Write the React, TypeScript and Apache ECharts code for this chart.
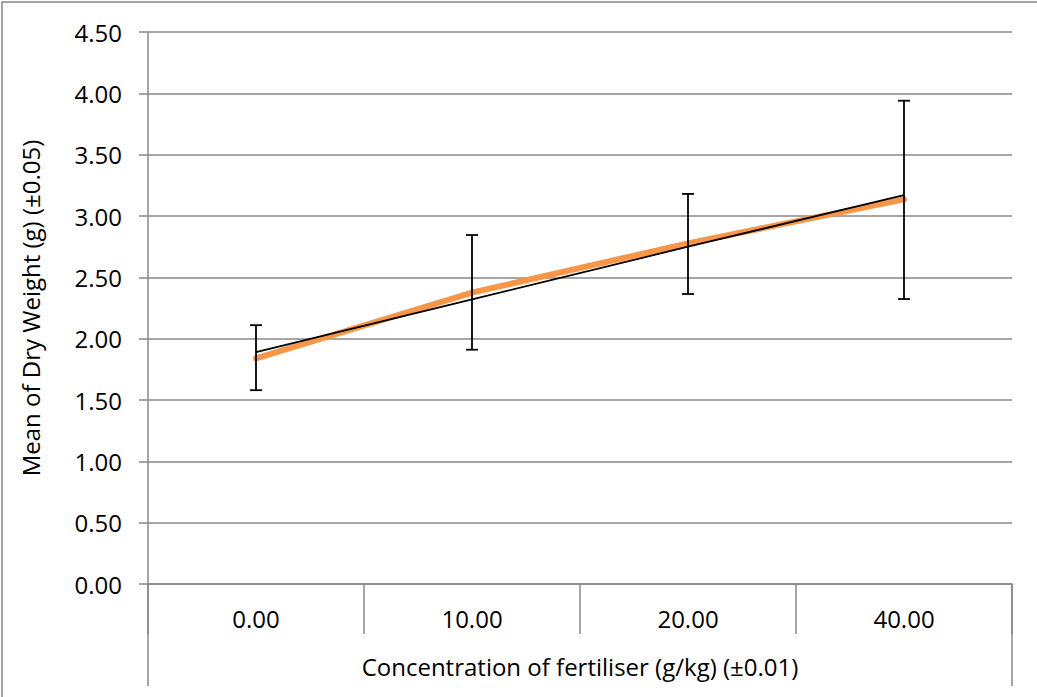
import React, { useEffect, useRef } from "react";
import * as echarts from "echarts";

const categories = ["0.00", "10.00", "20.00", "40.00"];
const meanDryWeight = [1.84, 2.375, 2.777, 3.136];
const trendline = [1.89, 2.32, 2.75, 3.17];
const errorLow = [1.58, 1.91, 2.364, 2.323];
const errorHigh = [2.11, 2.845, 3.18, 3.94];
const yTicks = { min: 0, max: 4.5, interval: 0.5 };

const xTitle = "Concentration of fertiliser (g/kg) (±0.01)";
const yTitle = "Mean of Dry Weight (g) (±0.05)";

const FONT = "Open Sans";
const FS = 24;
const GRID = { left: 148, right: 25, top: 32, bottom: 113 };
const W = 1037;
const H = 697;
const GRAY = "#888888";

export default function App() {
  const ref = useRef<HTMLDivElement>(null);
  useEffect(() => {
    if (!ref.current) return;
    const chart = echarts.init(ref.current, undefined, { renderer: "svg" });
    const errData = categories.map((_, i) => [i, errorLow[i], errorHigh[i]]);
    const axisBottom = H - GRID.bottom;
    const gridRight = W - GRID.right;
    chart.setOption({
      animation: false,
      backgroundColor: "#ffffff",
      textStyle: { fontFamily: FONT },
      grid: { ...GRID, containLabel: false },
      xAxis: {
        type: "category",
        data: categories,
        boundaryGap: true,
        axisLine: { show: true, lineStyle: { color: GRAY, width: 1.5 } },
        axisTick: { show: true, length: 50, lineStyle: { color: GRAY, width: 1.5 } },
        axisLabel: { color: "#000", fontSize: FS, fontFamily: FONT, margin: 22 },
        splitLine: { show: false },
      },
      yAxis: {
        type: "value",
        min: yTicks.min,
        max: yTicks.max,
        interval: yTicks.interval,
        axisLine: { show: true, lineStyle: { color: GRAY, width: 1.5 } },
        axisTick: { show: true, length: 9, lineStyle: { color: GRAY, width: 1.5 } },
        axisLabel: {
          color: "#000",
          fontSize: FS,
          fontFamily: FONT,
          margin: 26,
          formatter: (v: number) => v.toFixed(2),
        },
        splitLine: { show: true, lineStyle: { color: GRAY, width: 1.5 } },
      },
      graphic: [
        {
          type: "rect",
          shape: { x: 2, y: 2, width: 1050, height: 720 },
          style: { fill: "none", stroke: GRAY, lineWidth: 1.5 },
          silent: true,
        },
        {
          type: "line",
          shape: { x1: GRID.left, y1: axisBottom, x2: GRID.left, y2: 686 },
          style: { stroke: GRAY, lineWidth: 1.5 },
        },
        {
          type: "line",
          shape: { x1: gridRight, y1: axisBottom, x2: gridRight, y2: 686 },
          style: { stroke: GRAY, lineWidth: 1.5 },
        },
        {
          type: "text",
          x: (GRID.left + gridRight) / 2,
          y: 666,
          style: {
            text: xTitle,
            fontSize: FS,
            fontFamily: FONT,
            fill: "#000",
            align: "center",
            verticalAlign: "middle",
          },
        },
        {
          type: "text",
          x: 30,
          y: (GRID.top + axisBottom) / 2,
          rotation: Math.PI / 2,
          style: {
            text: yTitle,
            fontSize: FS,
            fontFamily: FONT,
            fill: "#000",
            align: "center",
            verticalAlign: "middle",
          },
        },
      ],
      series: [
        {
          name: "Mean",
          type: "line",
          data: meanDryWeight,
          showSymbol: false,
          symbol: "none",
          lineStyle: { color: "#F79646", width: 6, cap: "round" },
          z: 2,
        },
        {
          name: "Trend",
          type: "line",
          data: trendline,
          showSymbol: false,
          symbol: "none",
          lineStyle: { color: "#000", width: 1.8 },
          z: 3,
        },
        {
          name: "Error",
          type: "custom",
          data: errData,
          z: 4,
          renderItem: (params: any, api: any) => {
            const idx = api.value(0);
            const lo = api.coord([idx, api.value(1)]);
            const hi = api.coord([idx, api.value(2)]);
            const cap = 6;
            const style = { stroke: "#000", lineWidth: 1.8 };
            return {
              type: "group",
              children: [
                { type: "line", shape: { x1: lo[0], y1: lo[1], x2: hi[0], y2: hi[1] }, style },
                { type: "line", shape: { x1: lo[0] - cap, y1: lo[1], x2: lo[0] + cap, y2: lo[1] }, style },
                { type: "line", shape: { x1: hi[0] - cap, y1: hi[1], x2: hi[0] + cap, y2: hi[1] }, style },
              ],
            };
          },
        },
      ],
    });
    return () => chart.dispose();
  }, []);
  return (
    <div
      ref={ref}
      style={{ position: "absolute", left: 0, top: 0, width: W, height: H, background: "#fff" }}
    />
  );
}
